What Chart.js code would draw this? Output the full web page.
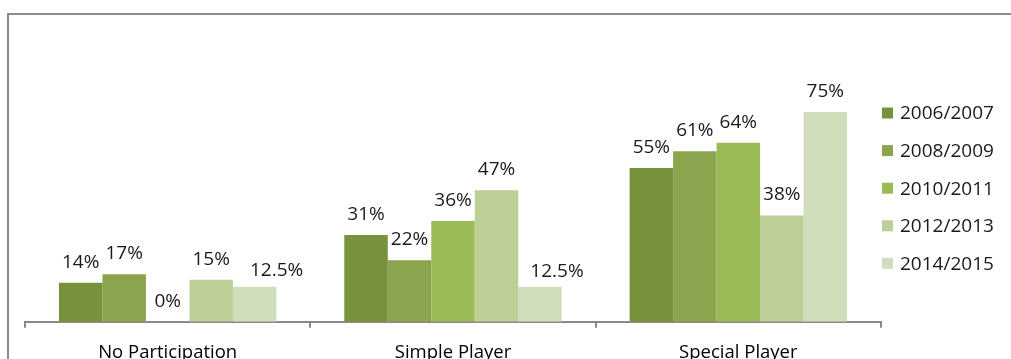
<!DOCTYPE html>
<html>
<head>
<meta charset="utf-8">
<script src="https://cdn.jsdelivr.net/npm/chart.js@4"></script>
<style>
  body { margin: 0; overflow: hidden; background: #fff; }
  #frame { position: absolute; left: 7px; top: 13px; width: 1100px; height: 400px; border: 2px solid #8c8c8c; }
  #wrap { position: absolute; left: 0; top: 0; width: 1011px; height: 390px; }
</style>
</head>
<body>
<div id="frame"></div>
<div id="wrap"><canvas id="myChart" width="1011" height="390"></canvas></div>
<script>
const categories = ["No Participation", "Simple Player", "Special Player"];
const seasons = ["2006/2007", "2008/2009", "2010/2011", "2012/2013", "2014/2015"];
const colors = ["#76923c", "#8aa54e", "#9bbb59", "#bbcf97", "#d1debc"];
const values2006 = [14, 31, 55];
const values2008 = [17, 22, 61];
const values2010 = [0, 36, 64];
const values2012 = [15, 47, 38];
const values2014 = [12.5, 12.5, 75];
const seriesValues = [values2006, values2008, values2010, values2012, values2014];

const FONT = "Open Sans";

// value labels above each bar (a couple were nudged in the original)
const labelNudge = { "4-0": [22, 4], "4-1": [17, 5] };
const barLabels = {
  id: "barLabels",
  afterDatasetsDraw(chart) {
    const c = chart.ctx;
    c.save();
    c.font = "19px '" + FONT + "'";
    c.fillStyle = "#1a1a1a";
    c.textAlign = "center";
    c.textBaseline = "alphabetic";
    chart.data.datasets.forEach((ds, i) => {
      chart.getDatasetMeta(i).data.forEach((bar, j) => {
        const [dx, dy] = labelNudge[i + "-" + j] || [0, 0];
        c.fillText(ds.data[j] + "%", bar.x + dx, bar.y - 15 + dy);
      });
    });
    c.restore();
  }
};

// legend column on the right
const sideLegend = {
  id: "sideLegend",
  afterDraw(chart) {
    const c = chart.ctx;
    c.save();
    c.font = "19px '" + FONT + "'";
    c.textBaseline = "middle";
    chart.data.datasets.forEach((ds, i) => {
      const y = 113 + i * 37.6;
      c.fillStyle = ds.backgroundColor;
      c.fillRect(882, y - 5.5, 11, 11);
      c.fillStyle = "#1a1a1a";
      c.fillText(ds.label, 900, y + 1);
    });
    c.restore();
  }
};

const ctx = document.getElementById("myChart").getContext("2d");
const chart = new Chart(ctx, {
  type: "bar",
  data: {
    labels: categories,
    datasets: seasons.map((s, i) => ({
      label: s,
      data: seriesValues[i],
      backgroundColor: colors[i],
      borderWidth: 0,
      barPercentage: 1,
      categoryPercentage: 0.762
    }))
  },
  options: {
    responsive: false,
    devicePixelRatio: 1,
    animation: false,
    layout: { padding: { top: 98, left: 25, right: 130, bottom: 12 } },
    plugins: {
      legend: { display: false },
      tooltip: { enabled: false }
    },
    scales: {
      x: {
        grid: {
          display: true,
          drawOnChartArea: false,
          drawTicks: true,
          tickLength: 6,
          color: "#8a8a8a",
          lineWidth: 2
        },
        border: { display: true, color: "#8a8a8a", width: 2 },
        ticks: {
          padding: 14,
          color: "#000",
          font: { family: FONT, size: 18.5 }
        }
      },
      y: {
        display: false,
        min: 0,
        max: 80
      }
    }
  },
  plugins: [barLabels, sideLegend]
});
</script>
</body>
</html>
